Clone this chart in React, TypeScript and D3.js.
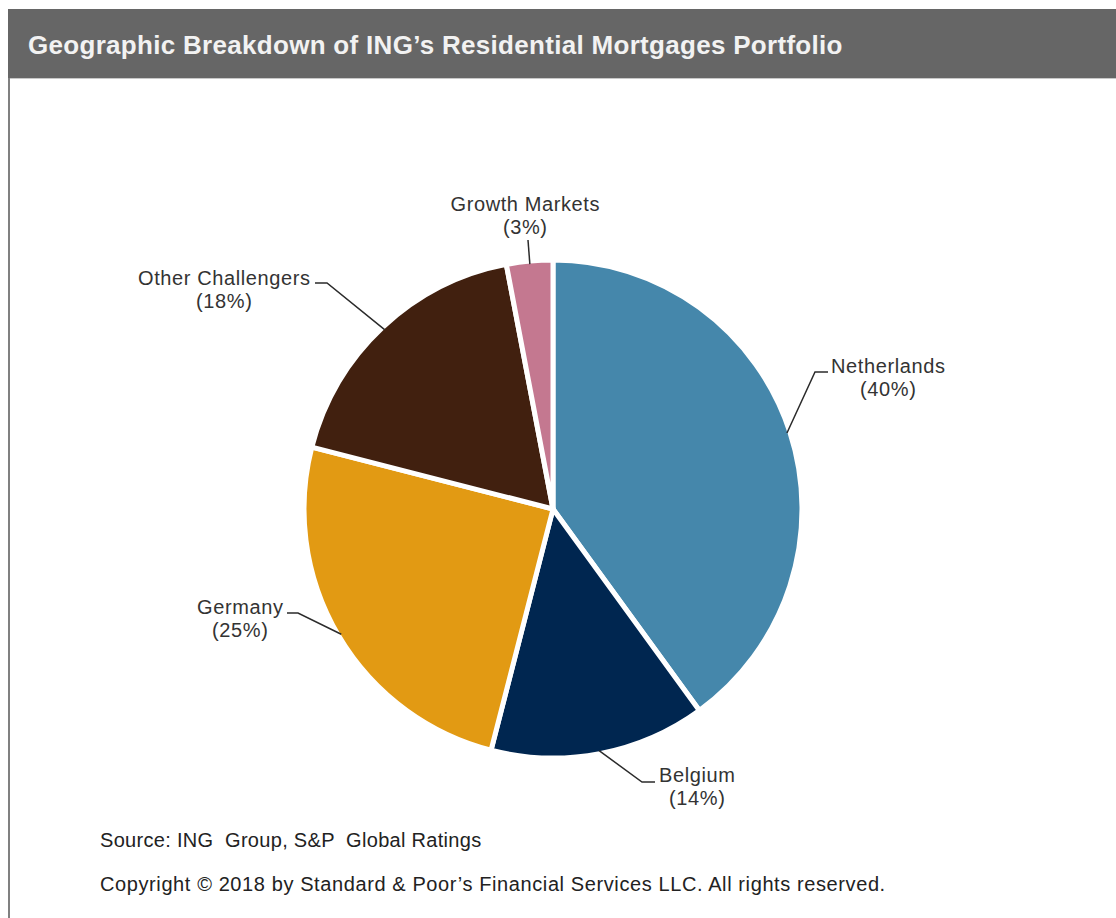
import React from "react";
import * as d3 from "d3";

const categories = ["Netherlands", "Belgium", "Germany", "Other Challengers", "Growth Markets"];
const values = [40, 14, 25, 18, 3];
const labels = ["(40%)", "(14%)", "(25%)", "(18%)", "(3%)"];
const colors = ["#4587AB", "#002650", "#E29A13", "#41200F", "#C47890"];

const title = "Geographic Breakdown of ING\u2019s Residential Mortgages Portfolio";
const source = "Source: ING  Group, S&P  Global Ratings";
const copyright = "Copyright \u00A9 2018 by Standard & Poor\u2019s Financial Services LLC. All rights reserved.";

// label placement (text anchor point and leader-line elbow) per category
const labelPos = [
  { x: 888, y: 373, elbow: [815, 372], end: [828, 372] },
  { x: 697, y: 782, elbow: [642, 782], end: [655, 782] },
  { x: 240, y: 614, elbow: [298, 613], end: [287, 613] },
  { x: 224, y: 285, elbow: [327, 283], end: [315, 283] },
  { x: 525, y: 211, elbow: [528, 240], end: [528, 240] },
];

export default function App() {
  const W = 1116, H = 918;
  const cx = 553, cy = 509, r = 249;
  const pie = d3.pie<number>().sort(null).value((d) => d)(values);
  const arc = d3.arc<d3.PieArcDatum<number>>().innerRadius(0).outerRadius(r);
  const font = "Arial, 'Liberation Sans', sans-serif";
  const ls = 0.6;

  return (
    <svg width={W} height={H} style={{ position: "absolute", left: 0, top: 0, background: "#fff" }}>
      <rect x={8} y={9} width={W - 8} height={69} fill="#666666" />
      <line x1={8} y1={78.5} x2={W} y2={78.5} stroke="#c8c8c8" strokeWidth={1} />
      <line x1={9} y1={78} x2={9} y2={H} stroke="#808080" strokeWidth={2} />
      <text x={28} y={54} fill="#f2f2f2" fontFamily={font} fontWeight="bold" fontSize={26} letterSpacing={0.3}>
        {title}
      </text>
      <g transform={`translate(${cx},${cy})`}>
        {pie.map((p, i) => (
          <path key={categories[i]} d={arc(p) || ""} fill={colors[i]} stroke="#fff" strokeWidth={5} strokeLinejoin="round" />
        ))}
      </g>
      {pie.map((p, i) => {
        const lp = labelPos[i];
        const a = (p.startAngle + p.endAngle) / 2;
        const rr = r - 3;
        const px = cx + Math.sin(a) * rr;
        const py = cy - Math.cos(a) * rr;
        return (
          <g key={"l" + i}>
            <polyline
              points={`${px},${py} ${lp.elbow[0]},${lp.elbow[1]} ${lp.end[0]},${lp.end[1]}`}
              fill="none"
              stroke="#2b2b2b"
              strokeWidth={1.5}
            />
            <text x={lp.x + ls / 2} y={lp.y} textAnchor="middle" fill="#333" fontFamily={font} fontSize={20} letterSpacing={ls}>
              {categories[i]}
            </text>
            <text x={lp.x + ls / 2} y={lp.y + 23} textAnchor="middle" fill="#333" fontFamily={font} fontSize={20} letterSpacing={ls}>
              {labels[i]}
            </text>
          </g>
        );
      })}
      <text x={100} y={847} fill="#222" fontFamily={font} fontSize={20} letterSpacing={0.3} style={{ whiteSpace: "pre" }}>
        {source}
      </text>
      <text x={100} y={891} fill="#222" fontFamily={font} fontSize={20} letterSpacing={ls} style={{ whiteSpace: "pre" }}>
        {copyright}
      </text>
    </svg>
  );
}
